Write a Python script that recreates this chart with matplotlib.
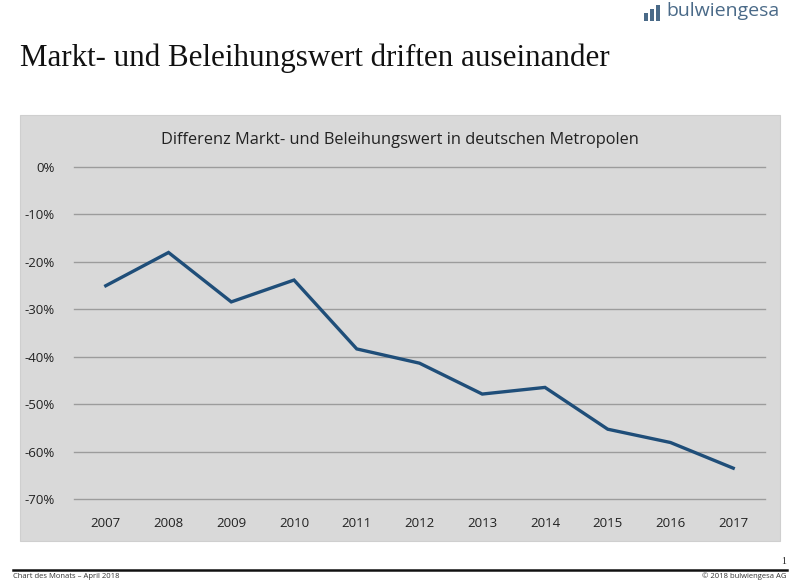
import matplotlib.pyplot as plt
from matplotlib.patches import Rectangle
from matplotlib.ticker import FuncFormatter

years = ["2007", "2008", "2009", "2010", "2011", "2012", "2013", "2014", "2015", "2016", "2017"]
diff_pct = [-25.1, -18.1, -28.5, -23.9, -38.4, -41.4, -47.9, -46.5, -55.3, -58.1, -63.5]
y_ticks = [0, -10, -20, -30, -40, -50, -60, -70]

PANEL = "#d9d9d9"
LINE = "#1f4e79"
LOGO = "#4a6a88"


def main():
    fig = plt.figure(figsize=(8, 5.8), dpi=100)
    fig.patch.set_facecolor("white")

    # grey chart panel behind the axes
    panel = Rectangle((20 / 800, 1 - 541 / 580), 760 / 800, 426 / 580,
                      transform=fig.transFigure, facecolor=PANEL,
                      edgecolor="#cfcfcf", linewidth=0.8, zorder=-5)
    fig.patches.append(panel)

    ax = fig.add_axes([74.4 / 800, 1 - 500 / 580, 690.2 / 800, 333.5 / 580])
    ax.set_facecolor("none")
    ax.set_zorder(2)

    x = list(range(len(years)))
    ax.plot(x, diff_pct, color=LINE, linewidth=2.4, solid_joinstyle="miter", zorder=3)

    ax.set_xlim(-0.5, len(years) - 0.5)
    ax.set_ylim(-70.2, 0)
    ax.set_yticks(y_ticks)
    ax.yaxis.set_major_formatter(FuncFormatter(lambda v, p: f"{v:.0f}%"))
    ax.set_xticks(x)
    ax.set_xticklabels(years)
    ax.grid(axis="y", color="#9c9c9c", linewidth=1.0, zorder=1)
    for gl in ax.get_ygridlines():
        gl.set_clip_on(False)
    ax.set_axisbelow(True)
    for s in ax.spines.values():
        s.set_visible(False)
    ax.tick_params(length=0, colors="#222222")
    ax.tick_params(axis="y", pad=14)
    ax.tick_params(axis="x", pad=12)
    for lab in ax.get_xticklabels() + ax.get_yticklabels():
        lab.set_family("Open Sans")
        lab.set_fontsize(9.5)

    fig.text(400 / 800, 1 - 140 / 580, "Differenz Markt- und Beleihungswert in deutschen Metropolen",
             ha="center", va="center", fontsize=11.8, family="Open Sans", color="#222222")

    # page title
    fig.text(20 / 800, 1 - 58 / 580, "Markt- und Beleihungswert driften auseinander",
             ha="left", va="center", fontsize=22.3, family="Liberation Serif", color="#111111")

    # logo
    fig.text(780 / 800, 1 - 11 / 580, "bulwiengesa", ha="right", va="center",
             fontsize=14, family="Open Sans", color=LOGO)
    for bx, bh in [(644, 8), (650, 12), (656, 16)]:
        fig.patches.append(Rectangle((bx / 800, 1 - 21 / 580), 4 / 800, bh / 580,
                                     transform=fig.transFigure, facecolor=LOGO,
                                     edgecolor="none"))

    # footer
    fig.add_artist(plt.Line2D([13 / 800, 787 / 800], [1 - 570 / 580, 1 - 570 / 580],
                              transform=fig.transFigure, color="#111111", linewidth=1.8))
    fig.text(786 / 800, 1 - 562 / 580, "1", ha="right", va="center", fontsize=7,
             family="Liberation Serif", color="#222222")
    fig.text(13 / 800, 1 - 576 / 580, "Chart des Monats \u2013 April 2018", ha="left", va="center",
             fontsize=5.5, family="Open Sans", color="#333333")
    fig.text(787 / 800, 1 - 576 / 580, "\u00a9 2018 bulwiengesa AG", ha="right", va="center",
             fontsize=5.5, family="Open Sans", color="#333333")

    fig.savefig("out.png", dpi=100)


if __name__ == "__main__":
    main()
